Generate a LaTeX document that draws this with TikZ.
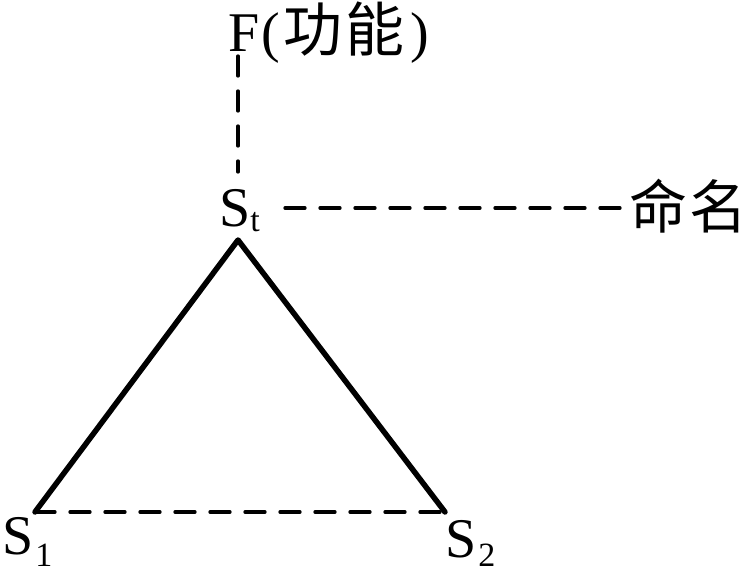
\documentclass[tikz,border=0pt]{standalone}
\usepackage{fontspec}
\setmainfont{Liberation Serif}
\newfontfamily\cjk{Noto Sans CJK SC}
\newcommand{\subs}[2][-12pt]{\raisebox{#1}{\fontsize{34}{36}\selectfont #2}}
\begin{document}
\begin{tikzpicture}[x=1pt,y=-1pt,
  lbl/.style={inner sep=0pt,anchor=base west,font=\fontsize{56}{60}\selectfont},
  cj/.style={inner sep=0pt,anchor=base west,font=\fontsize{58}{62}\selectfont\cjk},
  dline/.style={line width=3.3pt,line cap=round,dash pattern=on 20pt off 15pt},
  tri/.style={line width=5.5pt,line cap=round,line join=round}]
\useasboundingbox (0,0) rectangle (748,570);
\fill[white] (0,0) rectangle (748,570);
\node[lbl] (F) at (228,52) {F\hspace{2pt}(\hspace{4pt}{\fontsize{59}{62}\selectfont\cjk 功\hspace{3pt}能}\hspace{6pt})};
\node[lbl] (St) at (219,226) {S\subs[-5pt]{t}};
\node[cj] (Nm) at (629,228) {命\hspace{2pt}名};
\node[lbl] (S1) at (2,554) {S\hspace{2pt}\subs[-12pt]{1}};
\node[lbl] (S2) at (445,557) {S\hspace{2pt}\subs[-9pt]{2}};
\coordinate (Ftop) at (238,56);
\coordinate (Stup) at (238,172);
\coordinate (Stright) at (285,208);
\coordinate (Nmleft) at (627,208);
\coordinate (A) at (238,240);
\coordinate (L) at (35,512);
\coordinate (R) at (445,512);
\draw[dline] (Ftop) -- (Stup);
\draw[dline] (Stright) -- (Nmleft);
\draw[dline] (L) -- (R);
\draw[tri] (L) -- (A) -- (R);
\end{tikzpicture}
\end{document}
